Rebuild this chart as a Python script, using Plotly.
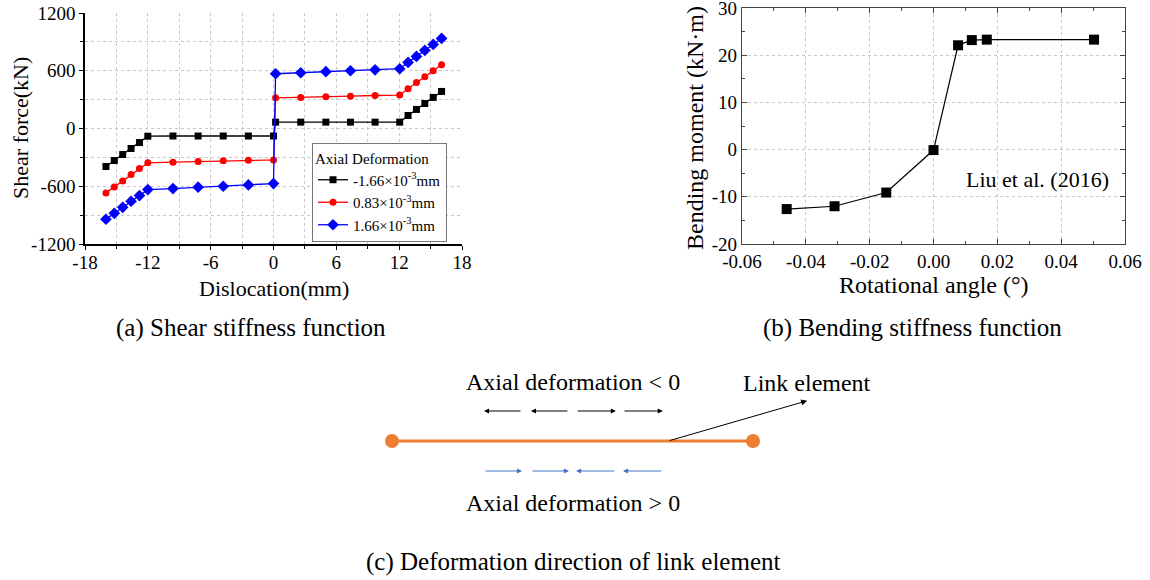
import plotly.graph_objects as go

# ---------------- data ----------------
# (a) Shear stiffness function
dislocation_mm = [-16, -15.2, -14.4, -13.6, -12.8, -12, -9.6, -7.2, -4.8, -2.4, 0,
                  0.2, 2.6, 5.0, 7.35, 9.7, 12.05, 12.85, 13.65, 14.45, 15.25, 16.05]
shear_m166 = [-395, -333, -270, -208, -146, -80, -78, -78, -78, -78, -78,
              66, 66, 66, 66, 66, 66, 135, 198, 260, 323, 385]
shear_p083 = [-669, -607, -545, -479, -416, -357, -350, -343, -336, -330, -326,
              319, 323, 330, 336, 343, 347, 413, 479, 538, 600, 662]
shear_p166 = [-943, -881, -819, -756, -697, -635, -624, -610, -600, -586, -572,
              569, 579, 590, 600, 610, 621, 687, 749, 812, 874, 936]
series_names = ["-1.66×10<sup>-3</sup>mm", "0.83×10<sup>-3</sup>mm", "1.66×10<sup>-3</sup>mm"]

a_xticks = [-18, -12, -6, 0, 6, 12, 18]
a_yticks = [-1200, -600, 0, 600, 1200]

# (b) Bending stiffness function
rot_angle = [-0.046, -0.031, -0.0148, 0.0, 0.0077, 0.012, 0.0167, 0.0503]
bend_moment = [-12.6, -12.0, -9.1, -0.1, 22.1, 23.2, 23.3, 23.3]
b_xticks = [-0.06, -0.04, -0.02, 0.0, 0.02, 0.04, 0.06]
b_yticks = [-20, -10, 0, 10, 20, 30]

# (c) Link element diagram (element length normalised to 1)
node_x = [0.0, 1.0]
node_y = [0.0, 0.0]
arrow_a = [0.255, 0.385, 0.62, 0.75]   # outer ends
arrow_b = [0.36, 0.49, 0.51, 0.64]     # inner ends
pointer_from = (0.765, 0.0)
pointer_to = (1.15, 0.67)

FONT = "Liberation Serif, Times New Roman, serif"
W, H = 1150, 580

fig = go.Figure()

# ---- panel (a) traces ----
colors = ["#000000", "#ff0000", "#0000ff"]
symbols = ["square", "circle", "diamond"]
sizes = [7, 7, 9]
for name, ys, c, s, sz in zip(series_names, [shear_m166, shear_p083, shear_p166], colors, symbols, sizes):
    fig.add_trace(go.Scatter(
        x=dislocation_mm, y=ys, name=name, mode="lines+markers",
        line=dict(color=c, width=1.3), marker=dict(symbol=s, size=sz, color=c),
        xaxis="x", yaxis="y"))

# ---- panel (b) trace ----
fig.add_trace(go.Scatter(
    x=rot_angle, y=bend_moment, mode="lines+markers", showlegend=False,
    line=dict(color="black", width=1.2), marker=dict(symbol="square", size=10, color="black"),
    xaxis="x2", yaxis="y2"))

# ---- panel (c) link element ----
fig.add_trace(go.Scatter(
    x=node_x, y=node_y, mode="lines+markers", showlegend=False, cliponaxis=False,
    line=dict(color="#ED7D31", width=3), marker=dict(size=14, color="#ED7D31"),
    xaxis="x3", yaxis="y3", hoverinfo="skip"))

def fmt(v, nd=None):
    return f"{v:.{nd}f}" if nd is not None else f"{v:g}"

grid_dot = dict(griddash="dot", gridcolor="#c8c8c8", gridwidth=1)

a_dom_x = [85 / W, 462 / W]
a_dom_y = [1 - 244 / H, 1 - 13 / H]
b_dom_x = [742 / W, 1125 / W]
b_dom_y = [1 - 244 / H, 1 - 8 / H]

# diagram axes: element from px 392 to 753 (361 px per unit), centre line at px 441, 60 px per unit vertically
c_xr = [-0.2, 1.4]
c_yr = [-1.2, 1.2]
c_dom_x = [(392 + c_xr[0] * 361) / W, (392 + c_xr[1] * 361) / W]
c_dom_y = [1 - (441 - c_yr[0] * 60) / H, 1 - (441 - c_yr[1] * 60) / H]

tickfont = dict(family=FONT, size=19, color="black")

fig.update_layout(
    template="none",
    width=W, height=H, margin=dict(l=0, r=0, t=0, b=0, pad=0, autoexpand=False),
    paper_bgcolor="white", plot_bgcolor="white",
    font=dict(family=FONT, color="black"),
    showlegend=True,
    # panel (a)
    xaxis=dict(domain=a_dom_x, anchor="y", range=[-18, 18], tickmode="array",
               tickvals=a_xticks, ticktext=[fmt(v) for v in a_xticks],
               ticks="outside", ticklen=4, tickwidth=1.3, tickcolor="black",
               showline=True, linecolor="black", linewidth=1.5, showgrid=False, zeroline=False,
               minor=dict(dtick=3, tick0=0, ticks="outside", ticklen=3, tickcolor="black",
                          showgrid=True, **grid_dot),
               tickfont=tickfont, automargin=False, ticklabeloverflow="allow",
               ticklabelstandoff=-4),
    yaxis=dict(domain=a_dom_y, anchor="x", range=[-1200, 1200], tickmode="array",
               tickvals=a_yticks, ticktext=[fmt(v) for v in a_yticks],
               ticks="outside", ticklen=4, tickwidth=1.3, tickcolor="black",
               showline=True, linecolor="black", linewidth=1.5, showgrid=False, zeroline=False,
               minor=dict(dtick=300, tick0=0, ticks="outside", ticklen=3, tickcolor="black",
                          showgrid=True, **grid_dot),
               tickfont=tickfont, automargin=False, ticklabeloverflow="allow"),
    xaxis4=dict(overlaying="x", anchor="y", side="top", range=[-18, 18], tickmode="array",
                tickvals=a_xticks, showticklabels=False, ticks="inside", ticklen=5, tickwidth=1.3,
                tickcolor="black", showline=True, linecolor="black", linewidth=1.5,
                showgrid=False, zeroline=False, automargin=False,
                minor=dict(dtick=3, tick0=0, ticks="inside", ticklen=3, tickcolor="black")),
    yaxis4=dict(overlaying="y", anchor="x", side="right", range=[-1200, 1200], tickmode="array",
                tickvals=a_yticks, showticklabels=False, ticks="inside", ticklen=5, tickwidth=1.3,
                tickcolor="black", showline=True, linecolor="black", linewidth=1.5,
                showgrid=False, zeroline=False, automargin=False,
                minor=dict(dtick=300, tick0=0, ticks="inside", ticklen=3, tickcolor="black")),
    # panel (b)
    xaxis2=dict(domain=b_dom_x, anchor="y2", range=[-0.06, 0.06], tickmode="array",
                tickvals=b_xticks, ticktext=[fmt(v, 2) for v in b_xticks],
                ticks="inside", ticklen=5, tickwidth=1.2, tickcolor="#444",
                showline=True, linecolor="#444", linewidth=1.3, mirror="ticks",
                showgrid=True, zeroline=False, **grid_dot, automargin=False,
                minor=dict(dtick=0.01, tick0=0, ticks="inside", ticklen=3, tickcolor="#444"),
                tickfont=tickfont, ticklabeloverflow="allow"),
    yaxis2=dict(domain=b_dom_y, anchor="x2", range=[-20, 30], tickmode="array",
                tickvals=b_yticks, ticktext=[fmt(v) for v in b_yticks],
                ticks="inside", ticklen=5, tickwidth=1.2, tickcolor="#444",
                showline=True, linecolor="#444", linewidth=1.3, mirror="ticks",
                showgrid=True, zeroline=False, **grid_dot, automargin=False,
                minor=dict(dtick=5, tick0=0, ticks="inside", ticklen=3, tickcolor="#444"),
                tickfont=tickfont, ticklabeloverflow="allow"),
    # panel (c) hidden axes
    xaxis3=dict(domain=c_dom_x, anchor="y3", range=c_xr, visible=False, fixedrange=True, automargin=False),
    yaxis3=dict(domain=c_dom_y, anchor="x3", range=c_yr, visible=False, fixedrange=True, automargin=False),
    legend=dict(x=312 / W, y=1 - 143 / H, xanchor="left", yanchor="top",
                bgcolor="white", bordercolor="#777", borderwidth=1,
                font=dict(family=FONT, size=15, color="black"),
                title=dict(text="Axial Deformation", font=dict(family=FONT, size=15, color="black")),
                itemwidth=30, tracegroupgap=0),
)

ann = []
def paper_text(text, px, py, size, angle=0):
    ann.append(dict(text=text, x=px / W, y=1 - py / H, xref="paper", yref="paper",
                    showarrow=False, xanchor="center", yanchor="middle", textangle=angle,
                    font=dict(family=FONT, size=size, color="black")))

# axis titles
paper_text("Dislocation(mm)", 274, 288, 22)
paper_text("Shear force(kN)", 20, 128, 22, -90)
paper_text("Rotational angle (°)", 934, 285, 24)
paper_text("Bending moment (kN·m)", 695, 128, 24, -90)
# in-plot label
paper_text("Liu et al. (2016)", 1037, 180, 22)
# captions
paper_text("(a) Shear stiffness function", 251, 328, 25)
paper_text("(b) Bending stiffness function", 912, 328, 25)
paper_text("(c) Deformation direction of link element", 573, 562, 25)

# diagram texts
for t, x, y in [("Axial deformation &lt; 0", 0.50, 0.98), ("Axial deformation &gt; 0", 0.50, -1.03),
                ("Link element", 1.15, 0.97)]:
    ann.append(dict(text=t, x=x, y=y, xref="x3", yref="y3", showarrow=False,
                    xanchor="center", yanchor="middle", font=dict(family=FONT, size=24, color="black")))

# tension arrows (axial deformation < 0): point outward, black
for a, b in zip(arrow_a, arrow_b):
    ann.append(dict(x=a, y=0.5, ax=b, ay=0.5, xref="x3", yref="y3", axref="x3", ayref="y3",
                    text="", showarrow=True, arrowhead=2, arrowsize=1, arrowwidth=1, arrowcolor="black"))
# compression arrows (axial deformation > 0): point inward, blue
for a, b in zip(arrow_a, arrow_b):
    ann.append(dict(x=b, y=-0.5, ax=a, ay=-0.5, xref="x3", yref="y3", axref="x3", ayref="y3",
                    text="", showarrow=True, arrowhead=2, arrowsize=1, arrowwidth=1, arrowcolor="#4472C4"))
# pointer to link element label
ann.append(dict(x=pointer_to[0], y=pointer_to[1], ax=pointer_from[0], ay=pointer_from[1],
                xref="x3", yref="y3", axref="x3", ayref="y3", text="", showarrow=True,
                arrowhead=2, arrowsize=1.2, arrowwidth=1, arrowcolor="black"))

fig.update_layout(annotations=ann)
fig.write_html("out.html")
